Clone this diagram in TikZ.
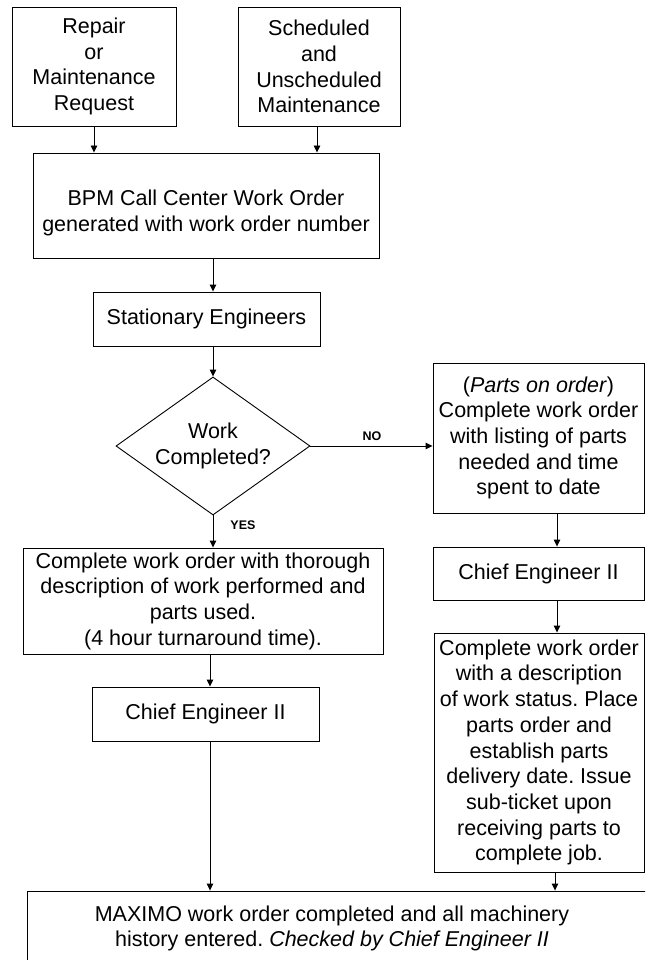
\documentclass[tikz,border=0pt]{standalone}
\usepackage{fontspec}
\setmainfont{Liberation Sans}
\usetikzlibrary{shapes.geometric,arrows.meta}
\frenchspacing
\begin{document}
\begin{tikzpicture}[x=1pt,y=-1pt,
  font=\fontsize{21.5}{25.7}\selectfont,
  box/.style={draw, line width=0.9pt, rectangle, inner sep=0pt, align=center},
  arr/.style={line width=0.9pt, -{Triangle[length=7pt,width=6.5pt]}},
  tag/.style={font=\fontsize{12.5}{14}\selectfont\bfseries, inner sep=0pt}]
\useasboundingbox (0,0) rectangle (645,960);
\clip (0,0) rectangle (645,960);

% entry points
\node[box, minimum width=164pt, minimum height=119pt] (req) at (94,66.5)
  {Repair\\or\\Maintenance\\Request};
\node[box, minimum width=162pt, minimum height=119pt] (sched) at (319,66.5)
  {Scheduled\\and\\Unscheduled\\Maintenance};

% main column (the strut sets the text a little below the middle)
\node[box, minimum width=346pt, minimum height=105pt] (bpm) at (206,205.5)
  {\rule{0pt}{30pt}BPM Call Center Work Order\\generated with work order number};
\node[box, minimum width=227pt, minimum height=54pt] (stat) at (206.5,319)
  {Stationary Engineers};
\node[draw, line width=0.9pt, diamond, aspect=1.4, inner sep=0pt,
  minimum width=194pt, minimum height=138pt, align=center] (dia) at (213,446)
  {Work\\Completed?};
\node[box, minimum width=360pt, minimum height=106pt] (done) at (203,601)
  {Complete work order with thorough\\description of work performed and\\parts used.\\(4 hour turnaround time).};
\node[box, minimum width=227pt, minimum height=54pt] (chief1) at (205.5,714)
  {Chief Engineer II};

% parts-on-order column
\node[box, minimum width=211pt, minimum height=150pt] (parts) at (538.5,438)
  {(\textit{Parts on order})\\Complete work order\\with listing of parts\\needed and time\\spent to date};
\node[box, minimum width=211pt, minimum height=53pt] (chief2) at (538.5,573.5)
  {Chief Engineer II};
\node[box, minimum width=210pt, minimum height=239pt] (status) at (539,752.5)
  {Complete work order\\with a description\\of work status. Place\\parts order and\\establish parts\\delivery date. Issue\\sub-ticket upon\\receiving parts to\\complete job.};

% closing record
\node[box, minimum width=693pt, minimum height=109pt] (maximo) at (373.5,945.5) {};
\node[align=center, inner sep=0pt] (maxtext) at (332,928.5)
  {MAXIMO work order completed and all machinery\\history entered. \textit{Checked by Chief Engineer II}};

% decision labels
\node[tag] (no) at (372,436) {NO};
\node[tag] (yes) at (243,525) {YES};

% connectors
\draw[arr] (req.south) -- (req.south |- bpm.north);
\draw[arr] ([xshift=-2pt]sched.south) -- ([xshift=-2pt]sched.south |- bpm.north);
\draw[arr] (dia.north |- bpm.south) -- (dia.north |- stat.north);
\draw[arr] (dia.north |- stat.south) -- (dia.north);
\draw[arr] (dia.south) -- (dia.south |- done.north);
\draw[arr] (dia.east) -- (dia.east -| parts.west);
\draw[arr] ([xshift=4.5pt]chief1.north |- done.south) -- ([xshift=4.5pt]chief1.north);
\draw[arr] ([xshift=4.5pt]chief1.south) -- ([xshift=4.5pt]chief1.south |- maximo.north);
\draw[arr] ([xshift=18.5pt]parts.south) -- ([xshift=18.5pt]parts.south |- chief2.north);
\draw[arr] ([xshift=18.5pt]chief2.south) -- ([xshift=18.5pt]chief2.south |- status.north);
\draw[arr] ([xshift=16pt]status.south) -- ([xshift=16pt]status.south |- maximo.north);
\end{tikzpicture}
\end{document}
